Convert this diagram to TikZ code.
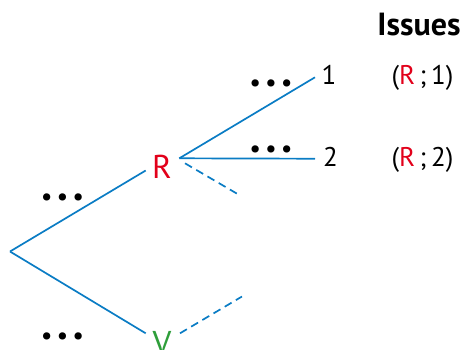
\documentclass[tikz,border=0pt]{standalone}
\usepackage{fontspec}
\setmainfont{PT Sans}
\definecolor{treeblue}{HTML}{0A7CC4}
\definecolor{rred}{HTML}{E2001A}
\definecolor{vgreen}{HTML}{2E9E3A}
\begin{document}
\begin{tikzpicture}[x=1pt,y=-1pt,
  branch/.style={draw=treeblue,line width=1.7pt},
  dbranch/.style={branch,dash pattern=on 8pt off 5pt},
  big/.style={inner sep=0pt,font=\fontsize{33}{33}\selectfont},
  lab/.style={inner sep=0pt,font=\fontsize{27}{27}\selectfont},
  dots/.style={inner sep=0pt,font=\fontsize{26}{26}\selectfont}]
\useasboundingbox (0,0) rectangle (464,349);
\coordinate (root) at (10,251.5);
\coordinate (Rin) at (145.7,170.5);
\coordinate (Rout) at (179.3,158.3);
\coordinate (Rd) at (185,163.3);
\coordinate (Rdend) at (241,196);
\coordinate (Vin) at (145.7,333.3);
\coordinate (Vd) at (180,333.3);
\coordinate (Vdend) at (242,296.5);
\coordinate (e1) at (315,77.3);
\coordinate (e2) at (315,158.7);
\node[big,text=rred,anchor=base] (R) at (162,178) {R};
\node[big,text=vgreen,anchor=base] (V) at (162,354) {V};
\node[lab,anchor=base] (n1) at (329,84) {1};
\node[lab,anchor=base] (n2) at (330.5,166.5) {2};
\node[lab,anchor=base] (c1) at (422.5,84) {(\textcolor{rred}{R}\,;\,1)};
\node[lab,anchor=base] (c2) at (422.5,166.5) {(\textcolor{rred}{R}\,;\,2)};
\node[anchor=base,inner sep=0pt,font=\fontsize{32}{32}\selectfont\bfseries] (iss) at (419,35) {Issues};
\node[dots] (d1) at (62.5,200) {•\kern4pt•\kern4pt•};
\node[dots] (d2) at (62.5,338.5) {•\kern4pt•\kern4pt•};
\node[dots] (d3) at (271,86) {•\kern4pt•\kern4pt•};
\node[dots] (d4) at (271,151.5) {•\kern4pt•\kern4pt•};
\draw[branch] (root) -- (Rin);
\draw[branch] (root) -- (Vin);
\draw[branch] (Rout) -- (e1);
\draw[branch] (Rout) -- (e2);
\draw[dbranch] (Rd) -- (Rdend);
\draw[dbranch] (Vd) -- (Vdend);
\end{tikzpicture}
\end{document}
